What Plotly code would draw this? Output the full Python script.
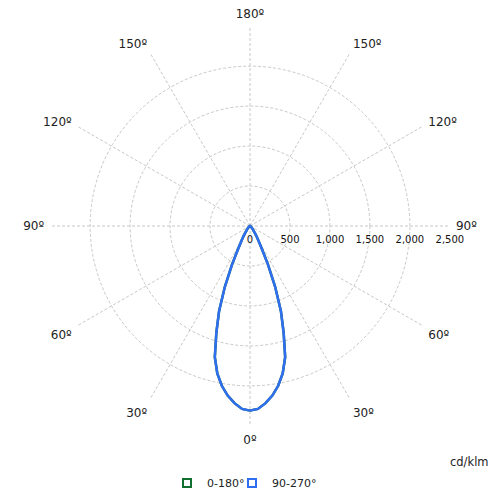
import plotly.graph_objects as go

# Photometric data (cd/klm) vs. gamma angle (degrees), half profile 0..180
gamma = [0, 2.5, 5, 7.5, 10, 12.5, 15, 17.5, 20, 22.5, 25, 27.5, 30, 32.5, 35,
         40, 45, 50, 60, 70, 80, 90, 100, 120, 140, 160, 180]
intensity = [2310, 2290, 2225, 2140, 2030, 1890, 1700, 1400, 1130, 820, 530, 320,
             210, 150, 105, 55, 32, 20, 10, 5, 2, 0, 0, 0, 0, 0, 0]

angle_ticks = [0, 30, 60, 90, 120, 150, 180, 210, 240, 270, 300, 330]
angle_labels = ["0º", "30º", "60º", "90º", "120º", "150º", "180º",
                "150º", "120º", "90º", "60º", "30º"]
radial_ticks = [0, 500, 1000, 1500, 2000, 2500]

# full 0..360 profile (C-plane and its opposite)
theta_full = gamma + [360 - g for g in reversed(gamma[:-1])]
r_full = intensity + list(reversed(intensity[:-1]))

green = "#11702f"
blue = "#2f6ef0"

# the page body has an 8px margin; position things in reference pixel coords
OFF = 8


def px_x(x):
    return (x - OFF) / 500


def px_y(y):
    return (500 + OFF - y) / 500


fig = go.Figure()
fig.add_trace(go.Scatterpolar(r=r_full, theta=theta_full, mode="lines",
                              line=dict(color=green, width=2.5), showlegend=False,
                              name="0-180°", hoverinfo="skip"))
fig.add_trace(go.Scatterpolar(r=r_full, theta=theta_full, mode="lines",
                              line=dict(color=blue, width=2.5), showlegend=False,
                              name="90-270°", hoverinfo="skip"))
# legend entries
fig.add_trace(go.Scatterpolar(r=[None], theta=[None], mode="markers", name="0-180°",
                              legend="legend",
                              marker=dict(symbol="square-open", size=8, color=green,
                                          line=dict(width=2, color=green))))
fig.add_trace(go.Scatterpolar(r=[None], theta=[None], mode="markers", name="90-270°",
                              legend="legend2",
                              marker=dict(symbol="square-open", size=8, color=blue,
                                          line=dict(width=2, color=blue))))

grid_col = "#c8c8c8"
leg_common = dict(orientation="h", yanchor="middle", xanchor="left",
                  font=dict(size=11, color="#222"), itemwidth=30,
                  bgcolor="rgba(0,0,0,0)")
fig.update_layout(
    width=500, height=500,
    margin=dict(l=0, r=0, t=0, b=0),
    paper_bgcolor="white",
    font=dict(family="DejaVu Sans", color="#222"),
    polar=dict(
        domain=dict(x=[px_x(50), px_x(450)], y=[px_y(426), px_y(26)]),
        bgcolor="white",
        angularaxis=dict(rotation=-90, direction="clockwise",
                         tickmode="array", tickvals=angle_ticks, ticktext=angle_labels,
                         showline=False, ticks="outside", ticklen=3,
                         tickcolor="rgba(0,0,0,0)",
                         gridcolor=grid_col, griddash="3px,2px",
                         gridwidth=1, tickfont=dict(size=12, color="#222")),
        radialaxis=dict(range=[0, 2502], tickmode="array", tickvals=radial_ticks,
                        tickformat=",", angle=0, tickangle=0, side="clockwise",
                        showline=False, ticks="outside", ticklen=4,
                        tickcolor="rgba(0,0,0,0)", gridcolor=grid_col,
                        griddash="3px,2px", gridwidth=1,
                        tickfont=dict(size=10, color="#111")),
    ),
    legend=dict(x=px_x(167), y=px_y(483), **leg_common),
    legend2=dict(x=px_x(232), y=px_y(483), **leg_common),
    annotations=[dict(text="cd/klm", x=px_x(491), y=px_y(462), xref="paper",
                      yref="paper", xanchor="right", yanchor="middle",
                      showarrow=False, font=dict(size=11.5, color="#222"))],
)

fig.write_html("out.html")
